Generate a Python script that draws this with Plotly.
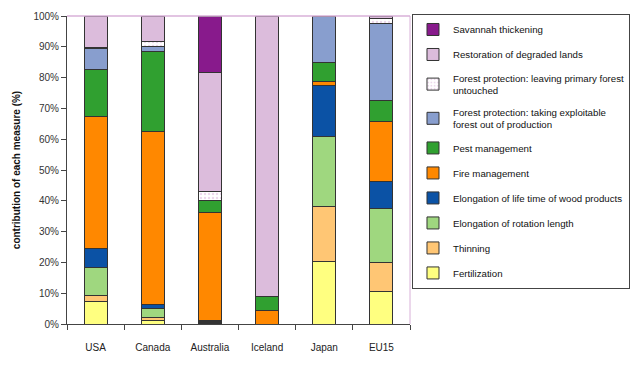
import plotly.graph_objects as go

categories = ["USA", "Canada", "Australia", "Iceland", "Japan", "EU15"]

fertilization = [7.4, 1.1, 0.2, 0.0, 20.3, 10.4]
thinning = [1.9, 1.0, 0.2, 0.0, 17.8, 9.6]
rotation_length = [9.1, 2.8, 0.3, 0.0, 22.8, 17.4]
wood_products = [6.2, 1.4, 0.3, 0.0, 16.6, 9.0]
fire_management = [42.9, 56.2, 35.2, 4.5, 1.1, 19.5]
pest_management = [15.2, 26.0, 3.9, 4.4, 6.3, 6.6]
forest_out_of_production = [6.7, 1.5, 0.0, 0.0, 14.9, 25.1]
forest_primary_untouched = [0.3, 1.6, 2.9, 0.0, 0.0, 1.6]
restoration = [10.3, 8.4, 38.6, 91.1, 0.2, 0.8]
savannah = [0.0, 0.0, 18.4, 0.0, 0.0, 0.0]

y_tick_values = list(range(0, 101, 10))
y_tick_labels = [f"{v}%" for v in y_tick_values]

series = [
    ("Fertilization", fertilization, "#ffff80", None),
    ("Thinning", thinning, "#ffc674", None),
    ("Elongation of rotation length", rotation_length, "#9fd77f", None),
    ("Elongation of life time of wood products", wood_products, "#0b52a5", None),
    ("Fire management", fire_management, "#ff8800", None),
    ("Pest management", pest_management, "#30a030", None),
    ("Forest protection: taking exploitable<br>forest out of production", forest_out_of_production, "#889ece", None),
    ("Forest protection: leaving primary forest<br>untouched", forest_primary_untouched, "#ffffff", "."),
    ("Restoration of degraded lands", restoration, "#dcbcdc", None),
    ("Savannah thickening", savannah, "#881a8c", None),
]

FONT = "Liberation Sans, Arial, sans-serif"

fig = go.Figure()
n = len(series)
for i, (name, vals, color, pat) in enumerate(series):
    marker = dict(color=color, line=dict(color="#333333", width=1))
    if pat:
        marker["pattern"] = dict(shape=pat, fgcolor="#d8b0d8", bgcolor="#ffffff", size=4, solidity=0.3)
    fig.add_trace(go.Bar(
        x=categories, y=vals, name=name, marker=marker,
        legendgroup=f"g{i}", legendrank=(n - i) * 10,
    ))

fig.update_layout(
    width=640, height=369,
    barmode="stack", bargap=0.6,
    margin=dict(l=67, r=230, t=16, b=45, autoexpand=False),
    paper_bgcolor="white", plot_bgcolor="white",
    font=dict(family=FONT, size=10, color="#222222"),
    showlegend=True,
    legend=dict(
        x=1.0058, y=1.0065, xanchor="left", yanchor="top",
        traceorder="grouped", tracegroupgap=6, maxheight=340,
        bordercolor="#444444", borderwidth=1,
        bgcolor="white",
        font=dict(family=FONT, size=9.7, color="#111111"),
    ),
    xaxis=dict(
        showline=True, linecolor="#444444", linewidth=1,
        ticks="outside", tickson="boundaries", ticklen=5, tickcolor="#444444",
        ticklabelstandoff=14, tickangle=0,
        tickfont=dict(size=10, color="#222222"),
        showgrid=False,
    ),
    yaxis=dict(
        range=[0, 100], tickmode="array", tickvals=y_tick_values, ticktext=y_tick_labels,
        showline=True, linecolor="#444444", linewidth=1,
        ticks="outside", ticklen=5, tickcolor="#444444",
        tickfont=dict(size=10, color="#333333"),
        showgrid=False, zeroline=False,
        title=dict(text="<b>contribution of each measure (%)</b>", standoff=10,
                   font=dict(size=10, color="#111111")),
    ),
    shapes=[
        dict(type="line", xref="paper", yref="paper", x0=0, x1=1, y0=1, y1=1,
             line=dict(color="#d8b0d8", width=1.5)),
        dict(type="line", xref="paper", yref="paper", x0=1, x1=1, y0=0, y1=1,
             line=dict(color="#d8b0d8", width=1)),
    ],
)

fig.write_html("out.html", config={"displayModeBar": False},
               post_script="document.body.style.margin='0px';")
